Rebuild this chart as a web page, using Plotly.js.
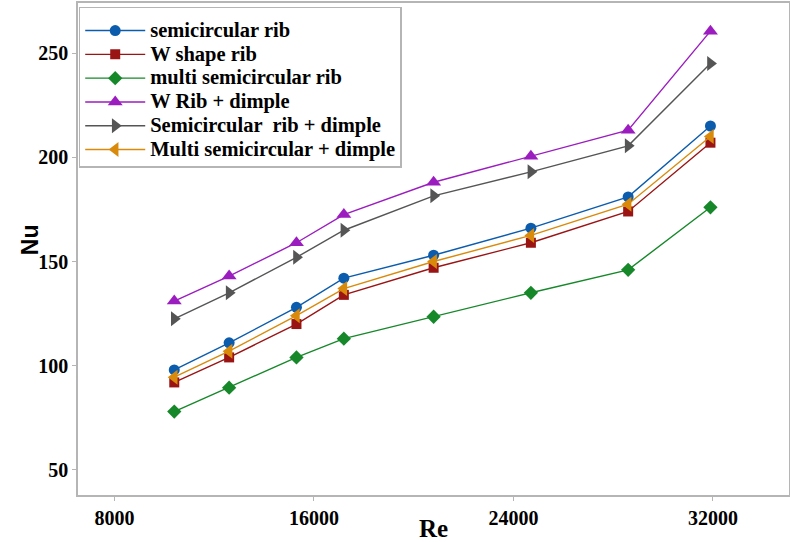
<!DOCTYPE html>
<html>
<head>
<meta charset="utf-8">
<script src="https://cdn.plot.ly/plotly-3.0.1.min.js"></script>
<style>html,body{margin:0;padding:0;background:#fff;}#chart{width:790px;height:542px;}</style>
</head>
<body>
<div id="chart"></div>
<script>
const re = [10400, 12600, 15300, 17200, 20800, 24700, 28600, 31900];
const semicircularRib = [98, 111, 128, 142, 153, 166, 181, 215];
const wShapeRib = [92, 104, 120, 134, 147, 159, 174, 207];
const multiSemicircularRib = [78, 89.5, 104, 113, 123.5, 135, 146, 176];
const wRibDimple = [131, 143, 159, 172.5, 188, 200.5, 213, 260.5];
const semicircularRibDimple = [122.5, 135, 152, 165, 181.5, 193, 205.5, 245];
const multiSemicircularDimple = [94.5, 107, 124, 137, 150, 162.5, 177.5, 210];
const seriesNames = ["semicircular rib", "W shape rib", "multi semicircular rib", "W Rib + dimple", "Semicircular  rib + dimple", "Multi semicircular + dimple"];
const yTicks = [50, 100, 150, 200, 250];
const xTicks = [8000, 16000, 24000, 32000];

const series = [semicircularRib, wShapeRib, multiSemicircularRib, wRibDimple, semicircularRibDimple, multiSemicircularDimple];
const colors = ["#0b5cad", "#9a1414", "#16882a", "#9b1dbf", "#555555", "#d98a0b"];
const symbols = ["circle", "square", "diamond", "triangle-up", "triangle-right", "triangle-left"];
const sizes = [11, 10, 11, 13, 13, 13];

const traces = series.map((ys, i) => ({
  x: re, y: ys,
  name: '<span style="font-size:20.5px">' + seriesNames[i].replace(/  /g, ' \u00a0') + '</span>',
  type: "scatter", mode: "lines+markers",
  line: {color: colors[i], width: 1.4},
  marker: {symbol: symbols[i], size: sizes[i], color: colors[i]}
}));

const serif = "Liberation Serif, Times New Roman, serif";
const tickFont = {family: serif, size: 20, color: "#000", weight: "bold"};
const layout = {
  width: 790, height: 542,
  margin: {l: 78, r: 1, t: 3, b: 47},
  paper_bgcolor: "#fff", plot_bgcolor: "#fff",
  showlegend: true,
  legend: {
    x: 0.001, y: 0.992, xanchor: "left", yanchor: "top",
    bgcolor: "#fff", bordercolor: "#b5b5b5", borderwidth: 1.5,
    font: {family: serif, size: 16, color: "#000", weight: "bold"},
    title: {text: " ", font: {family: serif, size: 4, color: "#fff"}},
    tracegroupgap: 0, itemwidth: 60
  },
  xaxis: {
    range: [6540, 35050], tickvals: xTicks, ticktext: xTicks.map(String),
    showgrid: false, zeroline: false,
    showline: true, linecolor: "#b5b5b5", linewidth: 1.5, mirror: true,
    ticks: "outside", ticklen: 4, tickcolor: "#b5b5b5",
    tickfont: tickFont,
    title: {text: "Re", font: {family: serif, size: 25, color: "#000", weight: "bold"}, standoff: 0}
  },
  yaxis: {
    range: [38, 274], tickvals: yTicks,
    showgrid: false, zeroline: false,
    showline: true, linecolor: "#b5b5b5", linewidth: 1.5, mirror: true,
    ticks: "outside", ticklen: 4, tickcolor: "#b5b5b5",
    tickfont: tickFont
  },
  annotations: [{
    text: "Nu", xref: "paper", yref: "paper", x: -0.0675, y: 0.518,
    xanchor: "center", yanchor: "middle", textangle: -90, showarrow: false,
    font: {family: "Liberation Sans, Arial, sans-serif", size: 23, color: "#000", weight: "bold"}
  }]
};
Plotly.newPlot("chart", traces, layout, {displayModeBar: false});
</script>
</body>
</html>
